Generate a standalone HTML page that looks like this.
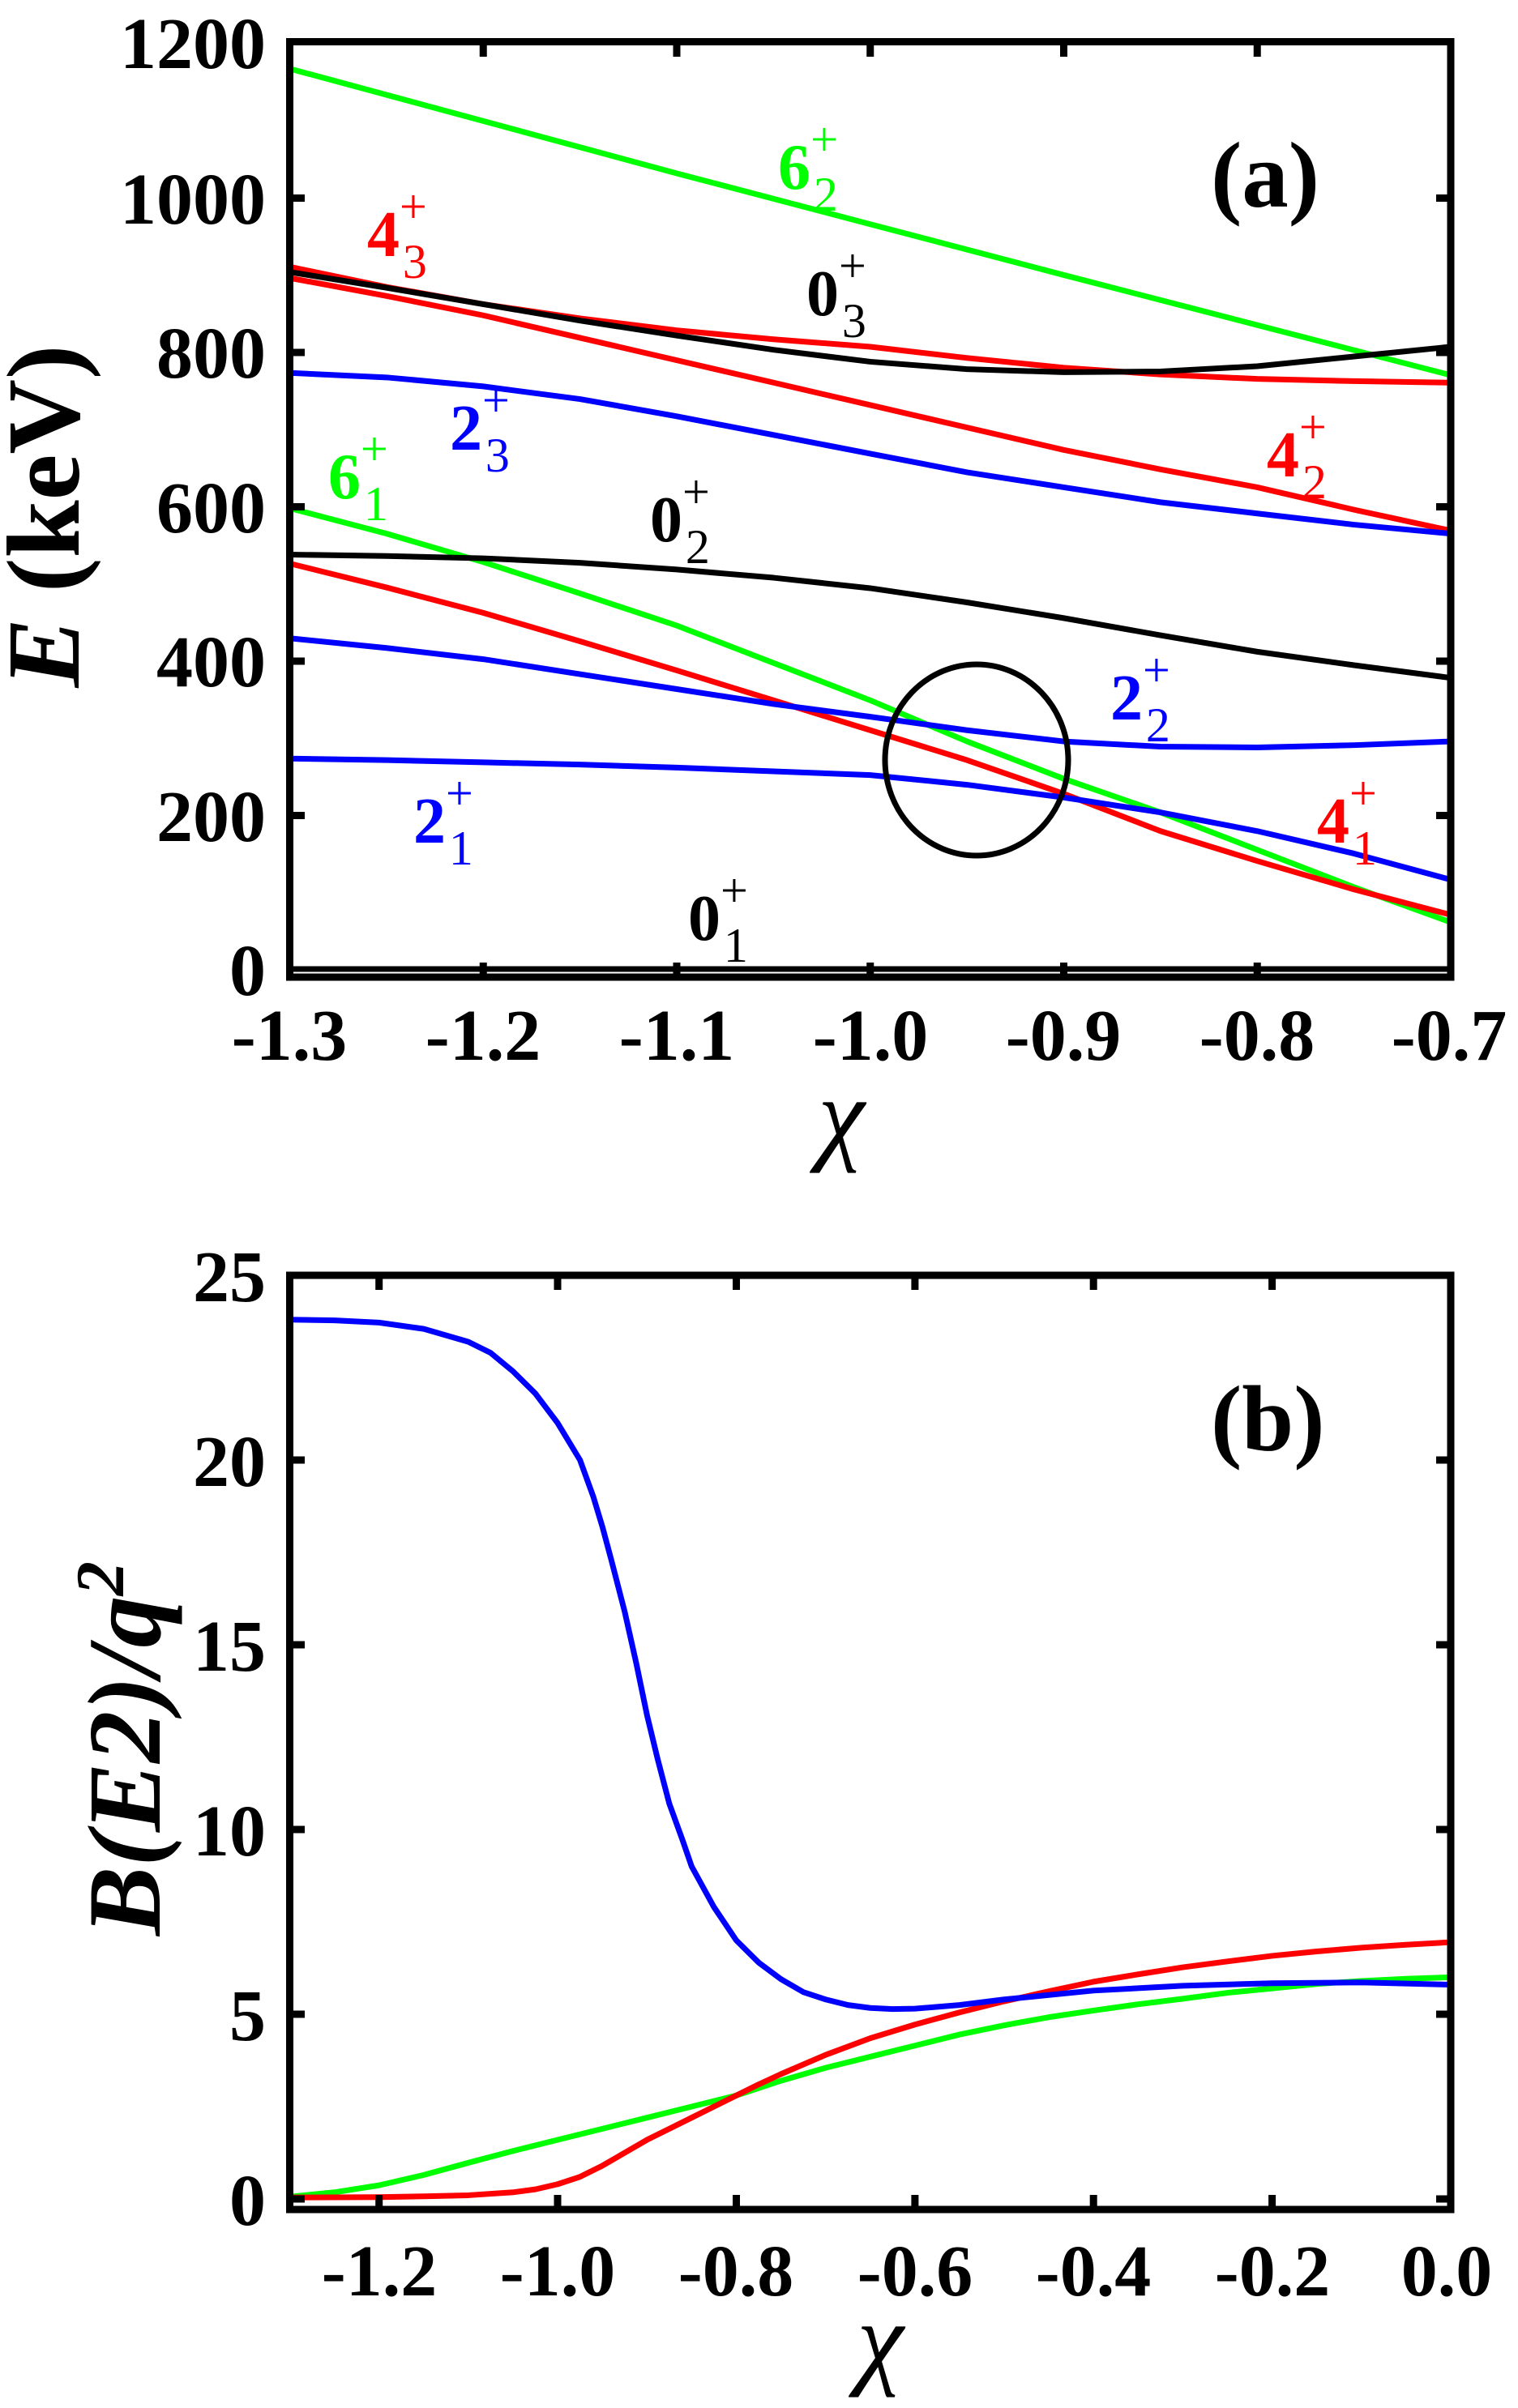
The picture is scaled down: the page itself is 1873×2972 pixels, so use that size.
<!DOCTYPE html>
<html><head><meta charset="utf-8"><style>
html,body{margin:0;padding:0;background:#fff;}
svg{display:block;}
svg, svg text{font-family:"Liberation Serif","Times New Roman",Times,serif;}
.tl{font-size:90px;font-weight:bold;}
.lb{font-size:80px;font-weight:bold;}
.sb{font-size:60px;font-weight:normal;}
</style></head><body>
<svg width="1873" height="2972" viewBox="0 0 1873 2972" xmlns="http://www.w3.org/2000/svg" font-family="Liberation Serif, Times New Roman, serif">
<rect width="1873" height="2972" fill="#fff"/>
<g transform="matrix(1.19375 0 0 0.9225 -0.6 1.8)" fill="none" stroke-width="7" stroke-linejoin="round">
<polyline vector-effect="non-scaling-stroke" stroke="#00ff00" points="300,90 500,160 700,230 900,298 1100,366 1300,433 1500,500"/>
<polyline vector-effect="non-scaling-stroke" stroke="#ff0000" points="300,355 400,382 500,405 600,424 700,440 800,452 900,462 1000,477 1100,490 1200,499 1300,505 1400,508 1500,510"/>
<polyline vector-effect="non-scaling-stroke" stroke="#000" points="300,362 400,383 500,405 600,427 700,447 800,466 900,482 1000,492 1100,496 1200,495 1300,488 1400,475 1500,462"/>
<polyline vector-effect="non-scaling-stroke" stroke="#ff0000" points="300,370 400,394 500,420 600,450 700,480 800,510 900,540 1000,570 1100,600 1200,626 1300,650 1400,680 1500,708"/>
<polyline vector-effect="non-scaling-stroke" stroke="#0000ff" points="300,497 400,503 500,515 600,532 700,555 800,580 900,605 1000,630 1100,650 1200,670 1300,685 1400,700 1500,712"/>
<polyline vector-effect="non-scaling-stroke" stroke="#00ff00" points="300,678 400,712 500,750 600,792 700,835 800,885 900,935 1000,990 1100,1040 1200,1085 1300,1135 1400,1185 1500,1232"/>
<polyline vector-effect="non-scaling-stroke" stroke="#000" points="300,740 400,742 500,745 600,751 700,760 800,771 900,785 1000,804 1100,825 1200,848 1300,870 1400,888 1500,905"/>
<polyline vector-effect="non-scaling-stroke" stroke="#ff0000" points="300,752 400,784 500,818 600,856 700,895 800,935 900,975 1000,1015 1100,1060 1200,1110 1300,1150 1400,1188 1500,1222"/>
<polyline vector-effect="non-scaling-stroke" stroke="#0000ff" points="300,852 400,865 500,880 600,900 700,920 800,940 900,957 1000,975 1100,990 1200,997 1300,998 1400,995 1500,990"/>
<polyline vector-effect="non-scaling-stroke" stroke="#0000ff" points="300,1013 400,1015 500,1018 600,1021 700,1025 800,1030 900,1035 1000,1048 1100,1065 1200,1085 1300,1110 1400,1140 1500,1175"/>
</g>
<line x1="357" y1="1196" x2="1790" y2="1196" stroke="#000" stroke-width="7"/>
<ellipse cx="1205" cy="938" rx="113" ry="118" fill="none" stroke="#000" stroke-width="7"/>
<rect x="357.5" y="51.5" width="1432.5" height="1154.5" fill="none" stroke="#000" stroke-width="9"/>
<g stroke="#000" stroke-width="9">
<line x1="596.25" y1="52" x2="596.25" y2="70"/><line x1="835" y1="52" x2="835" y2="70"/><line x1="1073.75" y1="52" x2="1073.75" y2="70"/><line x1="1312.5" y1="52" x2="1312.5" y2="70"/><line x1="1551.25" y1="52" x2="1551.25" y2="70"/>
<line x1="596.25" y1="1206" x2="596.25" y2="1188"/><line x1="835" y1="1206" x2="835" y2="1188"/><line x1="1073.75" y1="1206" x2="1073.75" y2="1188"/><line x1="1312.5" y1="1206" x2="1312.5" y2="1188"/><line x1="1551.25" y1="1206" x2="1551.25" y2="1188"/>
<line x1="358" y1="244.5" x2="376" y2="244.5"/><line x1="358" y1="435" x2="376" y2="435"/><line x1="358" y1="625.5" x2="376" y2="625.5"/><line x1="358" y1="816" x2="376" y2="816"/><line x1="358" y1="1006.5" x2="376" y2="1006.5"/>
<line x1="1790" y1="244.5" x2="1772" y2="244.5"/><line x1="1790" y1="435" x2="1772" y2="435"/><line x1="1790" y1="625.5" x2="1772" y2="625.5"/><line x1="1790" y1="816" x2="1772" y2="816"/><line x1="1790" y1="1006.5" x2="1772" y2="1006.5"/>
</g>
<g class="tl" text-anchor="end">
<text x="328" y="84">1200</text><text x="328" y="276">1000</text><text x="328" y="466">800</text><text x="328" y="657">600</text><text x="328" y="847">400</text><text x="328" y="1038">200</text><text x="328" y="1228">0</text>
</g>
<g class="tl" text-anchor="middle">
<text x="357" y="1308">-1.3</text><text x="596" y="1308">-1.2</text><text x="835" y="1308">-1.1</text><text x="1074" y="1308">-1.0</text><text x="1312" y="1308">-0.9</text><text x="1551" y="1308">-0.8</text><text x="1788" y="1308">-0.7</text>
</g>
<text x="1038" y="1420" text-anchor="middle" font-size="130" font-style="italic">χ</text>
<text transform="translate(97,637) rotate(-90)" text-anchor="middle" font-size="128" font-weight="bold"><tspan font-style="italic">E</tspan> (keV)</text>
<text x="1494" y="255" font-size="115" font-weight="bold">(a)</text>
<g class="lb">
<text x="960" y="233" fill="#00ff00">6<tspan class="sb" dy="-41">+</tspan><tspan class="sb" dx="-30" dy="68">2</tspan></text>
<text x="453" y="316" fill="#ff0000">4<tspan class="sb" dy="-41">+</tspan><tspan class="sb" dx="-30" dy="68">3</tspan></text>
<text x="995" y="389" fill="#000">0<tspan class="sb" dy="-41">+</tspan><tspan class="sb" dx="-30" dy="68">3</tspan></text>
<text x="555" y="555" fill="#0000ff">2<tspan class="sb" dy="-41">+</tspan><tspan class="sb" dx="-30" dy="68">3</tspan></text>
<text x="405" y="615" fill="#00ff00">6<tspan class="sb" dy="-41">+</tspan><tspan class="sb" dx="-30" dy="68">1</tspan></text>
<text x="1563" y="588" fill="#ff0000">4<tspan class="sb" dy="-41">+</tspan><tspan class="sb" dx="-30" dy="68">2</tspan></text>
<text x="802" y="668" fill="#000">0<tspan class="sb" dy="-41">+</tspan><tspan class="sb" dx="-30" dy="68">2</tspan></text>
<text x="1370" y="888" fill="#0000ff">2<tspan class="sb" dy="-41">+</tspan><tspan class="sb" dx="-30" dy="68">2</tspan></text>
<text x="1625" y="1040" fill="#ff0000">4<tspan class="sb" dy="-41">+</tspan><tspan class="sb" dx="-30" dy="68">1</tspan></text>
<text x="510" y="1040" fill="#0000ff">2<tspan class="sb" dy="-41">+</tspan><tspan class="sb" dx="-30" dy="68">1</tspan></text>
<text x="849" y="1160" fill="#000">0<tspan class="sb" dy="-41">+</tspan><tspan class="sb" dx="-30" dy="68">1</tspan></text>
</g>

<g transform="matrix(1101.9 0 0 -45.6 1790 2714)" fill="none" stroke-width="7" stroke-linejoin="round">
<polyline vector-effect="non-scaling-stroke" stroke="#00ff00" points="-1.3,0.06 -1.25,0.18 -1.2,0.37 -1.15,0.65 -1.1,0.98 -1.05,1.3 -1.0,1.6 -0.95,1.9 -0.9,2.2 -0.85,2.5 -0.8,2.8 -0.75,3.2 -0.7,3.55 -0.65,3.85 -0.6,4.15 -0.55,4.45 -0.5,4.7 -0.45,4.92 -0.4,5.1 -0.35,5.27 -0.3,5.42 -0.25,5.58 -0.2,5.7 -0.15,5.82 -0.1,5.9 -0.05,5.96 0,6.0"/>
<polyline vector-effect="non-scaling-stroke" stroke="#ff0000" points="-1.3,0.04 -1.2,0.05 -1.15,0.07 -1.1,0.1 -1.05,0.18 -1.025,0.26 -1.0,0.4 -0.975,0.6 -0.95,0.9 -0.925,1.25 -0.9,1.6 -0.875,1.9 -0.85,2.2 -0.825,2.5 -0.8,2.8 -0.775,3.1 -0.75,3.38 -0.7,3.9 -0.65,4.35 -0.6,4.72 -0.55,5.05 -0.5,5.35 -0.45,5.62 -0.4,5.88 -0.35,6.08 -0.3,6.27 -0.25,6.43 -0.2,6.58 -0.15,6.7 -0.1,6.8 -0.05,6.88 0,6.95"/>
<polyline vector-effect="non-scaling-stroke" stroke="#0000ff" points="-1.3,23.8 -1.25,23.78 -1.2,23.72 -1.15,23.55 -1.1,23.2 -1.075,22.9 -1.05,22.4 -1.025,21.8 -1.0,21.0 -0.975,20.0 -0.96,19.0 -0.95,18.2 -0.94,17.3 -0.925,15.9 -0.912,14.5 -0.9,13.1 -0.888,11.9 -0.875,10.7 -0.86,9.7 -0.85,9.0 -0.825,7.9 -0.8,7.0 -0.775,6.4 -0.75,5.95 -0.725,5.6 -0.7,5.4 -0.675,5.25 -0.65,5.17 -0.625,5.14 -0.6,5.15 -0.55,5.25 -0.5,5.4 -0.45,5.52 -0.4,5.64 -0.3,5.77 -0.2,5.84 -0.1,5.86 0,5.8"/>
</g>
<rect x="357.5" y="1574" width="1432.5" height="1153" fill="none" stroke="#000" stroke-width="9"/>
<g stroke="#000" stroke-width="9">
<line x1="467.7" y1="1574" x2="467.7" y2="1592"/><line x1="688" y1="1574" x2="688" y2="1592"/><line x1="908.5" y1="1574" x2="908.5" y2="1592"/><line x1="1128.9" y1="1574" x2="1128.9" y2="1592"/><line x1="1349.2" y1="1574" x2="1349.2" y2="1592"/><line x1="1569.6" y1="1574" x2="1569.6" y2="1592"/>
<line x1="467.7" y1="2727" x2="467.7" y2="2709"/><line x1="688" y1="2727" x2="688" y2="2709"/><line x1="908.5" y1="2727" x2="908.5" y2="2709"/><line x1="1128.9" y1="2727" x2="1128.9" y2="2709"/><line x1="1349.2" y1="2727" x2="1349.2" y2="2709"/><line x1="1569.6" y1="2727" x2="1569.6" y2="2709"/>
<line x1="358" y1="2486" x2="376" y2="2486"/><line x1="358" y1="2258" x2="376" y2="2258"/><line x1="358" y1="2030" x2="376" y2="2030"/><line x1="358" y1="1802" x2="376" y2="1802"/><line x1="358" y1="2714" x2="376" y2="2714"/>
<line x1="1790" y1="2486" x2="1772" y2="2486"/><line x1="1790" y1="2258" x2="1772" y2="2258"/><line x1="1790" y1="2030" x2="1772" y2="2030"/><line x1="1790" y1="1802" x2="1772" y2="1802"/><line x1="1790" y1="2714" x2="1772" y2="2714"/>
</g>
<g class="tl" text-anchor="end">
<text x="328" y="1606">25</text><text x="328" y="1834">20</text><text x="328" y="2062">15</text><text x="328" y="2290">10</text><text x="328" y="2518">5</text><text x="328" y="2746">0</text>
</g>
<g class="tl" text-anchor="middle">
<text x="468" y="2833">-1.2</text><text x="688" y="2833">-1.0</text><text x="908" y="2833">-0.8</text><text x="1129" y="2833">-0.6</text><text x="1349" y="2833">-0.4</text><text x="1570" y="2833">-0.2</text><text x="1785" y="2833">0.0</text>
</g>
<text x="1086" y="2931" text-anchor="middle" font-size="130" font-style="italic">χ</text>
<text transform="translate(197,2158) rotate(-90)" text-anchor="middle" font-size="128" font-weight="bold" font-style="italic">B(E2)/q<tspan font-size="85" dy="-45">2</tspan></text>
<text x="1494" y="1790" font-size="115" font-weight="bold">(b)</text>
</svg>
</body></html>
